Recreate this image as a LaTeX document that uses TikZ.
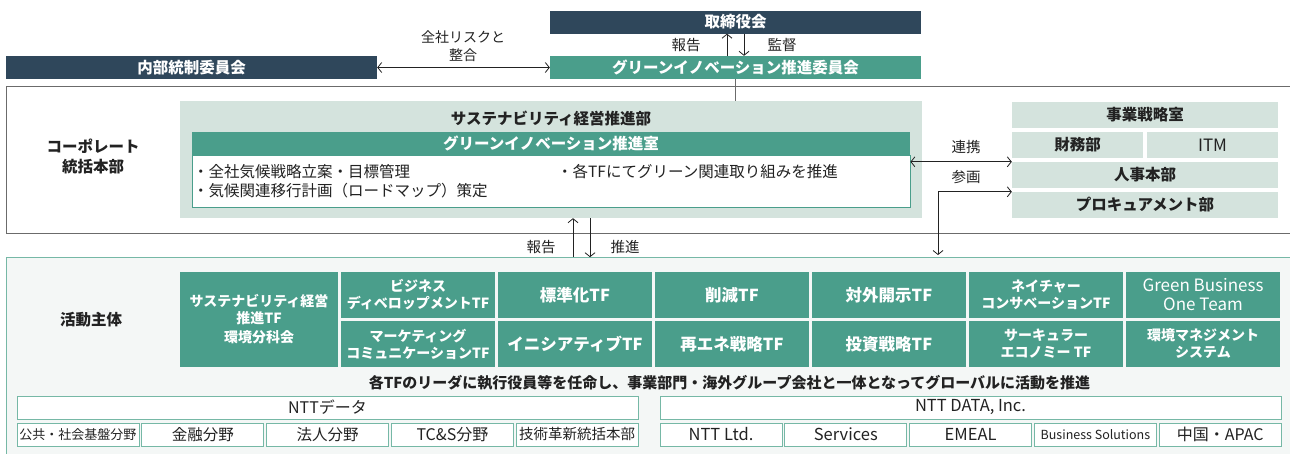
\documentclass[tikz,border=0pt]{standalone}
\usepackage{fontspec}
\setmainfont{Noto Sans CJK JP}
\usetikzlibrary{arrows.meta, calc}
\definecolor{navy}{HTML}{2F475B}
\definecolor{gteal}{HTML}{4A9E8B}
\definecolor{pale}{HTML}{D4E3DD}
\definecolor{rimteal}{HTML}{76B8A6}
\definecolor{actbg}{HTML}{F4F7F6}
\definecolor{framegrey}{HTML}{6B6B6B}
\definecolor{ink}{HTML}{222222}
\newcommand{\hdfont}{\fontsize{15.5}{20}\selectfont\bfseries}
\newcommand{\txfont}{\fontsize{15.5}{19}\selectfont}
\newcommand{\tffont}{\fontsize{14}{17}\selectfont\bfseries}
\newcommand{\tfone}{\fontsize{16.5}{19}\selectfont\bfseries}

\tikzset{
  darkbar/.style={fill=navy, text=white, inner sep=0pt, minimum width=371pt, minimum height=23pt, font=\hdfont},
  greenbar/.style={fill=gteal, text=white, inner sep=0pt, minimum height=23pt, font=\hdfont},
  palebox/.style={fill=pale, text=ink, inner sep=0pt, minimum height=26pt, font=\hdfont},
  tfbox/.style={fill=gteal, text=white, inner sep=0pt, minimum width=154pt, minimum height=46pt, align=center, font=\tffont},
  orgbox/.style={draw=rimteal, fill=white, line width=0.9pt, inner sep=0pt, minimum height=23pt, text=ink, font=\txfont},
  lbl/.style={text=ink, inner sep=0pt, font=\txfont, align=center},
  link/.style={draw=ink, line width=0.8pt},
}

\begin{document}
\begin{tikzpicture}[x=1pt, y=-1pt, >={Straight Barb[length=4pt, width=10pt]}]
  \useasboundingbox (0,0) rectangle (1290,453);
  \fill[white] (0,0) rectangle (1290,453);

  % frames
  \node[draw=framegrey, line width=1.3pt, inner sep=0pt, anchor=north west, minimum width=1300pt, minimum height=147pt] (corp) at (6,86) {};
  \node[draw=rimteal, fill=actbg, line width=1.3pt, inner sep=0pt, anchor=north west, minimum width=1300pt, minimum height=210pt] (act) at (6,257) {};

  % committees
  \node[darkbar] (board) at (735.5,22) {取締役会};
  \node[greenbar, minimum width=371pt] (gic) at (735.5,67.5) {グリーンイノベーション推進委員会};
  \node[darkbar] (icc) at (191.5,67.5) {内部統制委員会};
  \draw[link, ->] ([xshift=-8.5pt]gic.north) -- ([xshift=-8.5pt]board.south);
  \draw[link, ->] ([xshift=8.5pt]board.south) -- ([xshift=8.5pt]gic.north);
  \node[lbl, font=\fontsize{14.5}{18}\selectfont] (rep1) at (686,45) {報告};
  \node[lbl, font=\fontsize{14.5}{18}\selectfont] (sup1) at (782,45) {監督};
  \draw[link, <->] (icc.east) -- (gic.west);
  \node[lbl, font=\fontsize{14}{18}\selectfont] (risk) at (463,46) {全社リスクと\\整合};

  % corporate division
  \node[lbl, font=\hdfont] (corplbl) at (93,156) {コーポレート\\統括本部};
  \node[fill=pale, inner sep=0pt, minimum width=742pt, minimum height=117pt] (sus) at (551,159.5) {};
  \draw[draw=framegrey, line width=1pt] (gic.south) -- (gic.south |- sus.north);
  \node[lbl, font=\hdfont] (sustitle) at (551,118) {サステナビリティ経営推進部};
  \node[greenbar, minimum width=718pt] (gir) at (551,143.5) {グリーンイノベーション推進室};
  \node[draw=gteal, fill=white, line width=0.8pt, inner sep=0pt, minimum width=718pt, minimum height=52pt] (tasks) at (551,181) {};
  \node[lbl, anchor=west] (task1) at (193,172) {・全社気候戦略立案・目標管理};
  \node[lbl, anchor=west] (task2) at (193,191) {・気候関連移行計画（ロードマップ）策定};
  \node[lbl, anchor=west] (task3) at (557,172) {・各TFにてグリーン関連取り組みを推進};

  \node[palebox, minimum width=266pt] (strat) at (1145,115) {事業戦略室};
  \node[palebox, minimum width=131pt] (fin) at (1077.5,145) {財務部};
  \node[palebox, minimum width=131pt, font=\fontsize{17}{19}\selectfont] (itm) at (1212.5,145) {ITM};
  \node[palebox, minimum width=266pt] (hr) at (1145,175) {人事本部};
  \node[palebox, minimum width=266pt] (proc) at (1145,205) {プロキュアメント部};

  \draw[link, <->] (tasks.east |- hr.north) -- (hr.north west);
  \node[lbl, font=\fontsize{14.5}{18}\selectfont] (renkei) at (966,147) {連携};
  \coordinate (sankaend) at (938,255);
  \draw[link, <->] (sankaend) |- (proc.north west);
  \node[lbl, font=\fontsize{14.5}{18}\selectfont] (sankaku) at (966,177) {参画};

  \draw[link, ->] ($(sus.south)+(22,39)$) -- ($(sus.south)+(22,0)$);
  \draw[link, ->] ($(sus.south)+(39,0)$) -- ($(sus.south)+(39,39)$);
  \node[lbl, font=\fontsize{14.5}{18}\selectfont] (rep2) at (541,247) {報告};
  \node[lbl, font=\fontsize{14.5}{18}\selectfont] (push) at (625,247) {推進};

  % task forces
  \node[lbl, font=\hdfont] (actlbl) at (91,320) {活動主体};
  \node[tfbox, minimum width=158pt, minimum height=95pt] (tfsus) at (259,319.5) {サステナビリティ経営\\推進TF\\[2pt]環境分科会};
  \node[tfbox] (tfbiz) at (418,295) {ビジネス\\ディベロップメントTF};
  \node[tfbox, font=\tfone] (tfstd) at (575,295) {標準化TF};
  \node[tfbox, font=\tfone] (tfcut) at (732,295) {削減TF};
  \node[tfbox, font=\tfone] (tfdis) at (889,295) {対外開示TF};
  \node[tfbox] (tfnat) at (1046,295) {ネイチャー\\コンサベーションTF};
  \node[tfbox, font=\fontsize{17}{19}\selectfont] (tfgbt) at (1203,295) {Green Business\\One Team};
  \node[tfbox] (tfmkt) at (418,344) {マーケティング\\コミュニケーションTF};
  \node[tfbox, font=\tfone] (tfini) at (575,344) {イニシアティブTF};
  \node[tfbox, font=\tfone] (tfren) at (732,344) {再エネ戦略TF};
  \node[tfbox, font=\tfone] (tfinv) at (889,344) {投資戦略TF};
  \node[tfbox] (tfcir) at (1046,344) {サーキュラー\\エコノミー TF};
  \node[tfbox] (tfems) at (1203,344) {環境マネジメント\\システム};
  \node[lbl, font=\fontsize{15}{19}\selectfont\bfseries] (note) at (729.5,383) {各TFのリーダに執行役員等を任命し、事業部門・海外グループ会社と一体となってグローバルに活動を推進};

  % group companies
  \node[orgbox, minimum width=621pt, font=\fontsize{16}{19}\selectfont] (nttd) at (327.5,407.5) {NTTデータ};
  \node[orgbox, minimum width=122pt, font=\fontsize{13}{16}\selectfont] (pub) at (78,434.5) {公共・社会基盤分野};
  \node[orgbox, minimum width=122pt] (fina) at (202.8,434.5) {金融分野};
  \node[orgbox, minimum width=122pt] (corpo) at (327.6,434.5) {法人分野};
  \node[orgbox, minimum width=122pt, font=\fontsize{16}{19}\selectfont] (tcs) at (452.4,434.5) {TC\&S分野};
  \node[orgbox, minimum width=122pt, font=\fontsize{14.5}{17}\selectfont] (tech) at (577.2,434.5) {技術革新統括本部};
  \node[orgbox, minimum width=621pt, font=\fontsize{16.5}{19}\selectfont] (nttinc) at (970.5,407.5) {NTT DATA, Inc.};
  \node[orgbox, minimum width=122pt, font=\fontsize{16.5}{19}\selectfont] (ltd) at (721,434.5) {NTT Ltd.};
  \node[orgbox, minimum width=122pt, font=\fontsize{16.5}{19}\selectfont] (serv) at (845.8,434.5) {Services};
  \node[orgbox, minimum width=122pt, font=\fontsize{16.5}{19}\selectfont] (emeal) at (970.6,434.5) {EMEAL};
  \node[orgbox, minimum width=122pt, font=\fontsize{12.5}{15}\selectfont] (bsol) at (1095.4,434.5) {Business Solutions};
  \node[orgbox, minimum width=122pt, font=\fontsize{16}{19}\selectfont] (apac) at (1220.2,434.5) {中国・APAC};
\end{tikzpicture}
\end{document}
